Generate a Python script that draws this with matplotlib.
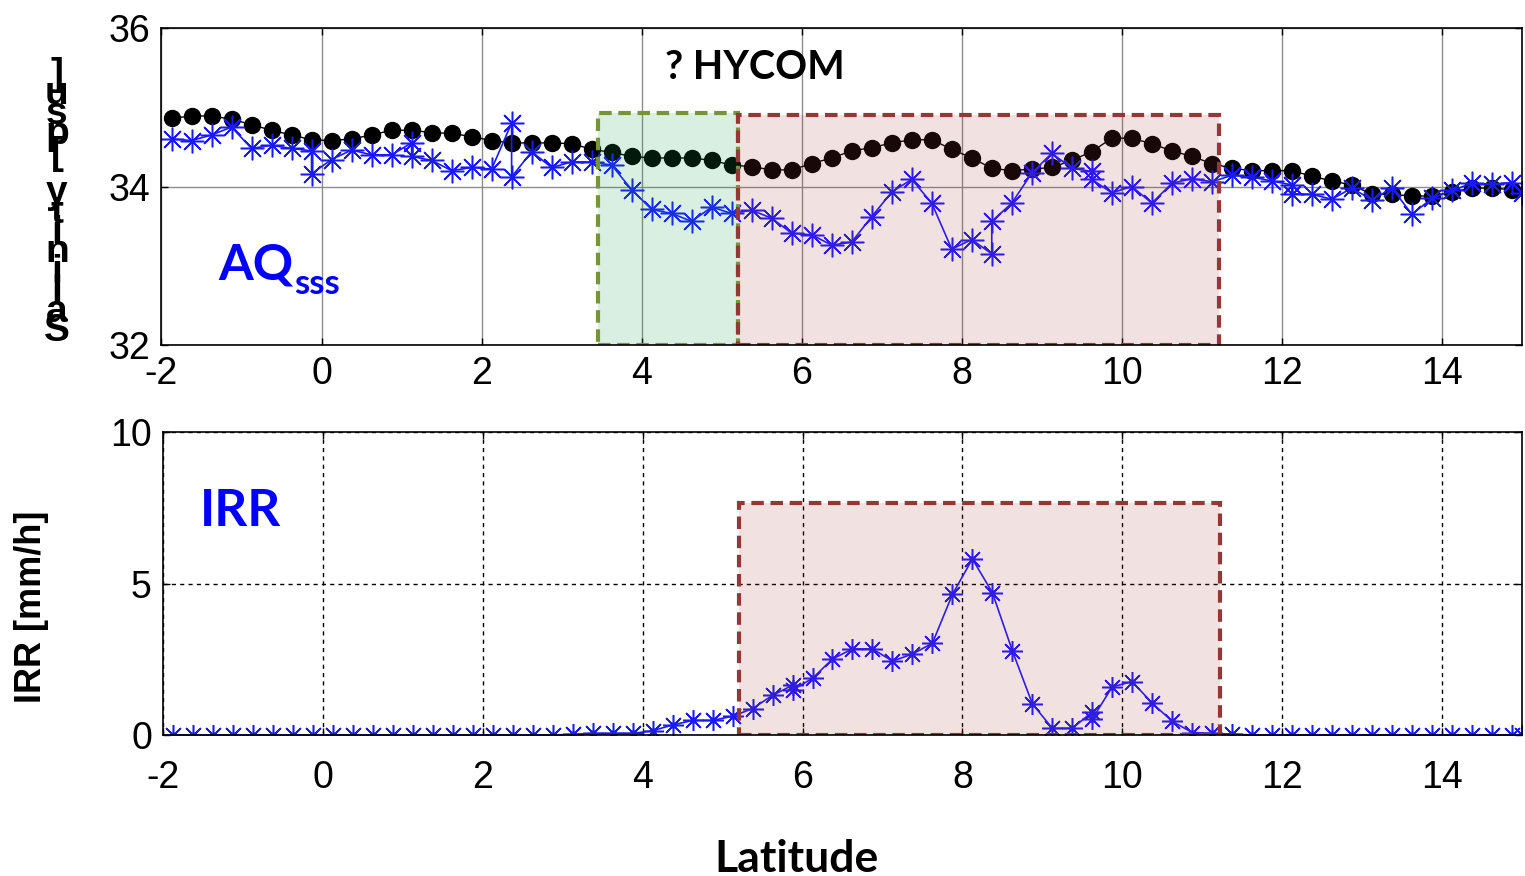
import matplotlib
matplotlib.use("Agg")
import matplotlib.pyplot as plt
from matplotlib.patches import Rectangle

# HYCOM salinity (black dots)
hycom_lat = [-1.875 + 0.25 * k for k in range(68)]
hycom_sss = [34.86, 34.89, 34.89, 34.85, 34.78, 34.71, 34.65, 34.59, 34.58, 34.60,
             34.65, 34.71, 34.71, 34.68, 34.67, 34.63, 34.58, 34.55, 34.55, 34.55,
             34.54, 34.47, 34.43, 34.38, 34.36, 34.36, 34.36, 34.33, 34.27, 34.25,
             34.21, 34.21, 34.29, 34.36, 34.45, 34.49, 34.55, 34.59, 34.59, 34.47,
             34.36, 34.23, 34.20, 34.22, 34.24, 34.33, 34.44, 34.61, 34.61, 34.54,
             34.45, 34.38, 34.29, 34.23, 34.20, 34.20, 34.20, 34.13, 34.07, 34.02,
             33.90, 33.90, 33.88, 33.88, 33.93, 33.98, 33.98, 33.96]

# Aquarius SSS (blue stars)
aq_lat = [-1.875, -1.625, -1.375, -1.125, -0.875, -0.625, -0.375, -0.125, -0.125, 0.125,
          0.375, 0.625, 0.875, 1.125, 1.125, 1.375, 1.625, 1.875, 2.125, 2.375,
          2.375, 2.625, 2.875, 3.125, 3.375, 3.625, 3.875, 4.125, 4.375, 4.625,
          4.875, 5.125, 5.375, 5.625, 5.875, 6.125, 6.375, 6.625, 6.875, 7.125,
          7.375, 7.625, 7.875, 8.125, 8.375, 8.375, 8.625, 8.875, 9.125, 9.375,
          9.625, 9.625, 9.875, 10.125, 10.375, 10.625, 10.875, 11.125, 11.375, 11.625,
          11.875, 12.125, 12.125, 12.375, 12.625, 12.875, 13.125, 13.375, 13.625, 13.875,
          14.125, 14.375, 14.625, 14.875, 15.0]
aq_sss = [34.60, 34.58, 34.65, 34.75, 34.48, 34.52, 34.48, 34.45, 34.16, 34.34,
          34.46, 34.40, 34.40, 34.55, 34.38, 34.33, 34.20, 34.24, 34.22, 34.80,
          34.12, 34.44, 34.24, 34.31, 34.31, 34.27, 33.96, 33.71, 33.66, 33.56,
          33.74, 33.66, 33.70, 33.60, 33.41, 33.39, 33.26, 33.30, 33.62, 33.93,
          34.09, 33.79, 33.21, 33.33, 33.15, 33.56, 33.79, 34.17, 34.42, 34.23,
          34.19, 34.09, 33.92, 34.00, 33.79, 34.04, 34.10, 34.06, 34.14, 34.12,
          34.07, 34.02, 33.91, 33.90, 33.84, 33.98, 33.83, 33.98, 33.65, 33.85,
          33.95, 34.04, 34.03, 34.05, 33.92]

# IRR rain rate (blue stars)
irr_lat = ([-1.875 + 0.25 * k for k in range(23)]
           + [3.875, 4.125, 4.375, 4.625, 4.875, 5.125, 5.375, 5.625, 5.875, 5.875,
              6.125, 6.375, 6.625, 6.875, 7.125, 7.375, 7.625, 7.875, 8.125, 8.375,
              8.625, 8.875, 9.125, 9.375, 9.625, 9.625, 9.875, 10.125, 10.375, 10.625,
              10.875, 11.125]
           + [11.375 + 0.25 * k for k in range(15)] + [15.0])
irr_val = ([0.0] * 20 + [0.02, 0.05, 0.05]
           + [0.05, 0.14, 0.33, 0.48, 0.48, 0.62, 0.87, 1.31, 1.64, 1.48,
              1.87, 2.51, 2.84, 2.84, 2.44, 2.67, 3.03, 4.64, 5.81, 4.70,
              2.78, 1.03, 0.22, 0.22, 0.76, 0.53, 1.59, 1.76, 1.05, 0.45,
              0.08, 0.05]
           + [0.03] + [0.0] * 14 + [0.0])

xticks = [-2, 0, 2, 4, 6, 8, 10, 12, 14]

plt.rcParams['font.family'] = ['Liberation Sans', 'DejaVu Sans']
plt.rcParams['axes.unicode_minus'] = False

fig = plt.figure(figsize=(15.25, 8.76), dpi=100)
ax1 = fig.add_axes([0.1059, 0.6062, 0.8921, 0.3618])
ax2 = fig.add_axes([0.1069, 0.161, 0.8911, 0.3458])

star = (8, 2, 0)

# top panel
ax1.plot(hycom_lat, hycom_sss, '-', color='black', lw=1, marker='o', ms=11.5, zorder=3)
ax1.plot(aq_lat, aq_sss, '-', color='#1a1aff', lw=1.2, marker=star, ms=17, mew=1.1, zorder=4)
ax1.add_patch(Rectangle((3.46, 32), 5.2 - 3.46, 34.93 - 32, facecolor='#149F4D', alpha=0.16,
                        edgecolor='none', zorder=5))
ax1.add_patch(Rectangle((3.46, 32), 5.2 - 3.46, 34.93 - 32, facecolor='none',
                        edgecolor='#77933c', lw=3, ls=(0, (3, 1.6)), zorder=6))
ax1.add_patch(Rectangle((5.2, 32), 11.22 - 5.2, 34.9 - 32, facecolor='#A83737', alpha=0.15,
                        edgecolor='none', zorder=5))
ax1.add_patch(Rectangle((5.2, 32), 11.22 - 5.2, 34.9 - 32, facecolor='none',
                        edgecolor='#953735', lw=3, ls=(0, (3, 1.6)), zorder=6))
ax1.set_xlim(-2, 15)
ax1.set_ylim(32, 36)
ax1.set_xticks(xticks)
ax1.set_yticks([32, 34, 36])
ax1.grid(True, color='#8c8c8c', lw=1, ls='-')
ax1.set_axisbelow(True)

# bottom panel
ax2.plot(irr_lat, irr_val, '-', color='#1a1aff', lw=1.2, marker=star, ms=15, mew=1.1, zorder=4)
ax2.plot(irr_lat, irr_val, 'o', color='#1a1aff', ms=3.5, zorder=4)
ax2.add_patch(Rectangle((5.2, 0), 11.22 - 5.2, 7.66, facecolor='#A83737', alpha=0.15,
                        edgecolor='none', zorder=5))
ax2.add_patch(Rectangle((5.2, 0), 11.22 - 5.2, 7.66, facecolor='none',
                        edgecolor='#953735', lw=3, ls=(0, (3, 1.6)), zorder=6))
ax2.set_xlim(-2, 15)
ax2.set_ylim(0, 10)
ax2.set_xticks(xticks)
ax2.set_yticks([0, 5, 10])
ax2.grid(True, color='black', lw=1, ls=(0, (3, 3)))
ax2.set_axisbelow(True)

for ax in (ax1, ax2):
    ax.tick_params(direction='in', length=5, width=1, labelsize=27, pad=8,
                   top=True, right=True)
    for s in ax.spines.values():
        s.set_linewidth(1.2)
        s.set_zorder(7)
ax2.tick_params(axis='x', pad=18)

# texts
fig.text(218 / 1525, 1 - 280 / 876, 'AQ', color='#0000ff', fontsize=36,
         family='Lato', weight='bold', ha='left', va='baseline')
fig.text(294 / 1525, 1 - 294 / 876, 'sss', color='#0000ff', fontsize=25,
         family='Lato', weight='bold', ha='left', va='baseline')
fig.text(200 / 1525, 1 - 526 / 876, 'IRR', color='#0000ff', fontsize=37,
         family='Lato', weight='bold', ha='left', va='baseline')
fig.text(665 / 1525, 1 - 79 / 876, '? HYCOM', color='black', fontsize=28.5,
         family='Lato', weight='bold', ha='left', va='baseline')
fig.text(796 / 1525, 1 - 872 / 876, 'Latitude', color='black', fontsize=32,
         family='Lato', weight='bold', ha='center', va='baseline')
fig.text(32 / 1525, 1 - 607 / 876, 'IRR [mm/h]', color='black', fontsize=26,
         weight='bold', rotation=90, ha='center', va='center')

# garbled stacked salinity label (upright letters, bottom to top)
label = 'Salinity [psu]'
fig.text(57 / 1525, 1 - 203 / 876, '\n'.join(reversed(label)), color='black',
         fontsize=28, weight='bold', linespacing=0.42, ha='center', va='center',
         multialignment='center')

fig.savefig('out.png', dpi=100)
